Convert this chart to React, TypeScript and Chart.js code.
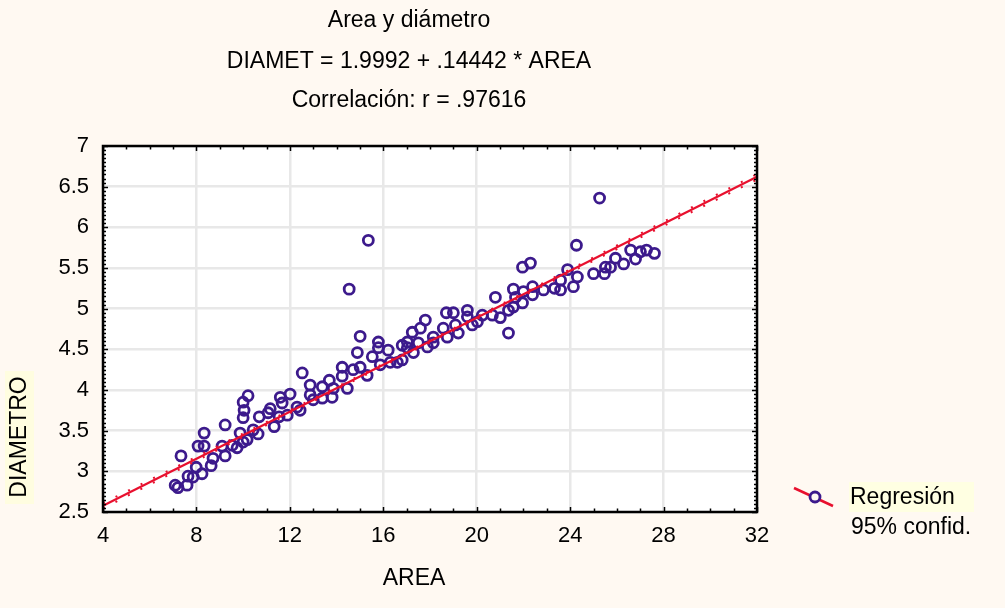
import React, { useEffect, useRef } from "react";
import { Chart, registerables } from "chart.js";

Chart.register(...registerables);

// ---- data ----
const AREA = [
  7.09, 7.21, 7.34, 7.6, 7.64, 7.86, 7.99, 8.24, 8.07, 8.33,
  8.33, 8.63, 8.71, 9.1, 9.23, 9.23, 9.53, 9.74, 9.87, 10.0,
  10.17, 10.0, 10.04, 10.0, 10.21, 10.43, 10.64, 10.69, 11.07, 11.16,
  11.33, 11.54, 11.59, 11.67, 11.89, 12.01, 12.31, 12.44, 12.53, 12.87,
  12.87, 13.0, 13.39, 13.39, 13.69, 13.81, 13.86, 14.24, 14.24, 14.46,
  14.71, 15.01, 14.89, 15.01, 15.31, 15.53, 15.79, 15.79, 15.87, 16.21,
  16.3, 16.6, 16.81, 16.81, 17.03, 17.03, 17.24, 17.29, 17.5, 17.59,
  17.8, 17.89, 18.14, 18.14, 18.57, 18.7, 18.74, 19.0, 19.09, 19.21,
  19.6, 19.6, 19.81, 20.03, 20.24, 20.67, 20.8, 21.01, 21.36, 21.36,
  21.57, 21.57, 21.66, 21.96, 21.96, 22.0, 22.3, 22.39, 22.39, 22.86,
  23.33, 23.59, 23.59, 23.89, 24.14, 24.31, 24.27, 25.0, 25.26, 25.47,
  25.51, 25.73, 25.94, 26.29, 26.59, 26.8, 27.01, 27.27, 27.61,
  14.54, 15.36,
];
const DIAMETRO = [
  2.83, 2.8, 3.19, 2.83, 2.94, 2.93, 3.05, 2.97, 3.31, 3.31,
  3.47, 3.07, 3.16, 3.31, 3.19, 3.57, 3.32, 3.29, 3.47, 3.36,
  3.39, 3.66, 3.75, 3.85, 3.93, 3.51, 3.46, 3.67, 3.72, 3.77,
  3.55, 3.67, 3.91, 3.84, 3.69, 3.95, 3.79, 3.75, 4.21, 4.06,
  3.94, 3.88, 4.04, 3.9, 4.12, 3.91, 4.02, 4.28, 4.17, 4.02,
  4.25, 4.66, 4.46, 4.28, 4.18, 4.41, 4.59, 4.52, 4.31, 4.49,
  4.34, 4.34, 4.55, 4.37, 4.59, 4.52, 4.71, 4.46, 4.58, 4.76,
  4.86, 4.53, 4.65, 4.58, 4.76, 4.95, 4.65, 4.95, 4.8, 4.7,
  4.98, 4.9, 4.8, 4.84, 4.92, 4.92, 5.14, 4.89, 4.7, 4.98,
  5.02, 5.24, 5.14, 5.07, 5.51, 5.21, 5.56, 5.27, 5.17, 5.23,
  5.25, 5.23, 5.35, 5.48, 5.27, 5.39, 5.78, 5.43, 6.36, 5.43,
  5.51, 5.51, 5.62, 5.55, 5.72, 5.61, 5.7, 5.72, 5.68,
  5.24, 5.84,
];
const INTERCEPT = 1.9992;
const SLOPE = 0.14442;
const LINE_X = [4, 32];
const BAND_X = [4, 8, 12, 16, 20, 24, 28, 32];
const BAND_HALF = [0.032, 0.024, 0.018, 0.014, 0.014, 0.019, 0.026, 0.034];
const TITLE_LINES = [
  "Area y diámetro",
  "DIAMET = 1.9992 + .14442 * AREA",
  "Correlación: r = .97616",
];
const X_TITLE = "AREA";
const Y_TITLE = "DIAMETRO";
const LEGEND_LABELS = ["Regresión", "95% confid."];

const FONT = "'Liberation Sans', Arial, sans-serif";
const BG = "#FFF9F2";
const PURPLE = "#3C1A8C";
const RED = "#E8102E";

const decorPlugin = {
  id: "decor",
  beforeDraw(chart: any) {
    const { ctx, chartArea } = chart;
    ctx.save();
    ctx.fillStyle = "#ffffff";
    ctx.fillRect(chartArea.left, chartArea.top, chartArea.right - chartArea.left, chartArea.bottom - chartArea.top);
    ctx.restore();
  },
  afterDraw(chart: any) {
    const { ctx, chartArea } = chart;
    const xs = chart.scales.x;
    const ys = chart.scales.y;
    ctx.save();
    // titles
    ctx.fillStyle = "#000";
    ctx.textAlign = "center";
    ctx.textBaseline = "middle";
    ctx.font = `23px ${FONT}`;
    const ty = [21, 62, 101];
    TITLE_LINES.forEach((t, i) => ctx.fillText(t, 409, ty[i]));
    // x title
    ctx.fillText(X_TITLE, 414, 579);
    // y title with yellow bg
    ctx.fillStyle = "#FFFDE0";
    ctx.fillRect(5, 371, 29, 133);
    ctx.save();
    ctx.translate(20, 437);
    ctx.rotate(-Math.PI / 2);
    ctx.fillStyle = "#000";
    ctx.fillText(Y_TITLE, 0, 0);
    ctx.restore();

    // frame
    ctx.strokeStyle = "#000";
    ctx.lineWidth = 2.5;
    ctx.strokeRect(chartArea.left, chartArea.top, chartArea.right - chartArea.left, chartArea.bottom - chartArea.top);
    ctx.lineWidth = 1.5;
    ctx.beginPath();
    for (let v = 4; v <= 32.001; v += 1) {
      const px = Math.round(xs.getPixelForValue(v)) + 0.5;
      const major = Math.abs(v / 4 - Math.round(v / 4)) < 1e-6;
      const len = major ? 5 : 3.5;
      ctx.moveTo(px, chartArea.bottom);
      ctx.lineTo(px, chartArea.bottom - len);
      ctx.moveTo(px, chartArea.top);
      ctx.lineTo(px, chartArea.top + len);
    }
    for (let k = 0; k <= 90; k++) {
      const v = 2.5 + k * 0.05;
      const py = Math.round(ys.getPixelForValue(v)) + 0.5;
      const len = k % 10 === 0 ? 5 : 3;
      ctx.moveTo(chartArea.left, py);
      ctx.lineTo(chartArea.left + len, py);
      ctx.moveTo(chartArea.right, py);
      ctx.lineTo(chartArea.right - len, py);
    }
    ctx.stroke();

    // legend
    ctx.strokeStyle = RED;
    ctx.lineWidth = 2.5;
    ctx.beginPath();
    ctx.moveTo(794, 488);
    ctx.lineTo(833, 506);
    ctx.stroke();
    ctx.fillStyle = BG;
    ctx.strokeStyle = PURPLE;
    ctx.lineWidth = 2.8;
    ctx.beginPath();
    ctx.arc(815, 497, 5, 0, Math.PI * 2);
    ctx.fill();
    ctx.stroke();
    ctx.fillStyle = "#FFFFE2";
    ctx.fillRect(849, 482, 125, 30);
    ctx.fillStyle = "#000";
    ctx.textAlign = "left";
    ctx.fillText(LEGEND_LABELS[0], 850, 498);
    ctx.fillText(LEGEND_LABELS[1], 851, 528);
    ctx.restore();
  },
};

export default function App() {
  const ref = useRef<HTMLCanvasElement | null>(null);
  useEffect(() => {
    document.body.style.margin = "0";
    document.body.style.background = BG;
    if (!ref.current) return;
    const pts = AREA.map((a, i) => ({ x: a, y: DIAMETRO[i] }));
    const line = LINE_X.map((x) => ({ x, y: INTERCEPT + SLOPE * x }));
    const upper = BAND_X.map((x, i) => ({ x, y: INTERCEPT + SLOPE * x + BAND_HALF[i] }));
    const lower = BAND_X.map((x, i) => ({ x, y: INTERCEPT + SLOPE * x - BAND_HALF[i] }));
    const chart = new Chart(ref.current, {
      type: "scatter",
      data: {
        datasets: [
          {
            label: "Regresión",
            data: line,
            showLine: true,
            borderColor: RED,
            borderWidth: 2.2,
            pointRadius: 0,
            order: 0,
          } as any,
          {
            label: "upper",
            data: upper,
            showLine: true,
            borderColor: RED,
            borderWidth: 2,
            borderDash: [2, 12],
            pointRadius: 0,
            order: 1,
          },
          {
            label: "lower",
            data: lower,
            showLine: true,
            borderColor: RED,
            borderWidth: 2,
            borderDash: [2, 12],
            pointRadius: 0,
            order: 1,
          },
          {
            label: "data",
            data: pts,
            pointRadius: 5,
            pointBorderWidth: 2.8,
            pointBorderColor: PURPLE,
            pointBackgroundColor: "rgba(0,0,0,0)",
            order: 2,
          },
        ],
      },
      options: {
        animation: false,
        responsive: true,
        maintainAspectRatio: false,
        layout: { padding: { left: 0, top: 146, right: 248, bottom: 0 } },
        plugins: {
          legend: { display: false },
          title: { display: false },
          tooltip: { enabled: false },
        },
        scales: {
          x: {
            type: "linear",
            min: 4,
            max: 32,
            ticks: {
              stepSize: 4,
              color: "#000",
              font: { family: FONT, size: 22 },
              padding: 11,
              maxRotation: 0,
            },
            grid: { color: "#E8E8E8", lineWidth: 2.5, drawTicks: false },
            border: { display: false },
            afterFit: (s: any) => {
              s.height = 96;
            },
          },
          y: {
            type: "linear",
            min: 2.5,
            max: 7,
            ticks: {
              stepSize: 0.5,
              color: "#000",
              font: { family: FONT, size: 22 },
              padding: 14,
              callback: (v: any) => String(Number(v)),
            },
            grid: { color: "#E8E8E8", lineWidth: 2.5, drawTicks: false },
            border: { display: false },
            afterFit: (s: any) => {
              s.width = 103;
            },
          },
        },
      },
      plugins: [decorPlugin],
    });
    return () => chart.destroy();
  }, []);
  return (
    <div style={{ position: "absolute", left: 0, top: 0, width: 1005, height: 608, background: BG }}>
      <canvas ref={ref} />
    </div>
  );
}
